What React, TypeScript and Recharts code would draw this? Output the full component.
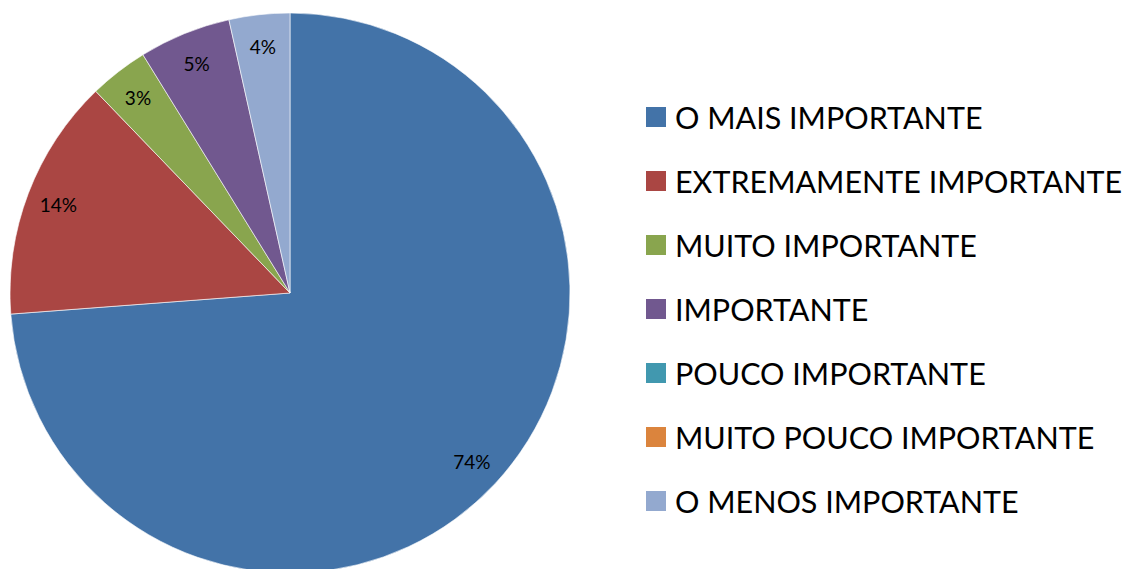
import React from 'react';
import { PieChart, Pie, Cell } from 'recharts';

const categories = [
  'O MAIS IMPORTANTE',
  'EXTREMAMENTE IMPORTANTE',
  'MUITO IMPORTANTE',
  'IMPORTANTE',
  'POUCO IMPORTANTE',
  'MUITO POUCO IMPORTANTE',
  'O MENOS IMPORTANTE',
];
const shares = [73.8, 14.0, 3.4, 5.3, 0, 0, 3.5];
const colors = ['#4373A8', '#AA4643', '#89A54E', '#71588F', '#4198AF', '#DB843D', '#93A9CF'];

const data = categories.map((name, i) => ({ name, value: shares[i] }));

const RADIAN = Math.PI / 180;
const FONT = 'Lato, "Open Sans", sans-serif';

const renderLabel = (props: any) => {
  const { cx, cy, midAngle, value } = props;
  if (!value) return null;
  const r = 248;
  const x = cx + r * Math.cos(-midAngle * RADIAN);
  const y = cy + r * Math.sin(-midAngle * RADIAN);
  return (
    <text x={x} y={y} fill="#000" fontSize={19} fontFamily={FONT} textAnchor="middle" dominantBaseline="central">
      {`${Math.round(value)}%`}
    </text>
  );
};

const LegendList = () => (
  <div style={{ position: 'absolute', left: 646, top: 85, fontFamily: FONT }}>
    {categories.map((name, i) => (
      <div key={name} style={{ display: 'flex', alignItems: 'center', height: 64 }}>
        <span style={{ width: 20, height: 20, background: colors[i], marginRight: 9, display: 'inline-block' }} />
        <span style={{ fontSize: 30.5, color: '#000', whiteSpace: 'nowrap' }}>{name}</span>
      </div>
    ))}
  </div>
);

export default function App() {
  return (
    <div style={{ position: 'absolute', left: 0, top: 0, width: 1126, height: 569, background: '#fff', overflow: 'hidden' }}>
      <PieChart width={1126} height={569} margin={{ top: 0, right: 0, bottom: 0, left: 0 }}>
        <Pie
          data={data}
          dataKey="value"
          nameKey="name"
          cx={290}
          cy={293}
          outerRadius={280}
          startAngle={90}
          endAngle={-270}
          label={renderLabel}
          labelLine={false}
          isAnimationActive={false}
        >
          {data.map((d, i) => (
            <Cell key={d.name} fill={colors[i]} stroke={d.value ? '#ffffff' : 'none'} strokeWidth={0.6} />
          ))}
        </Pie>
      </PieChart>
      <LegendList />
    </div>
  );
}
